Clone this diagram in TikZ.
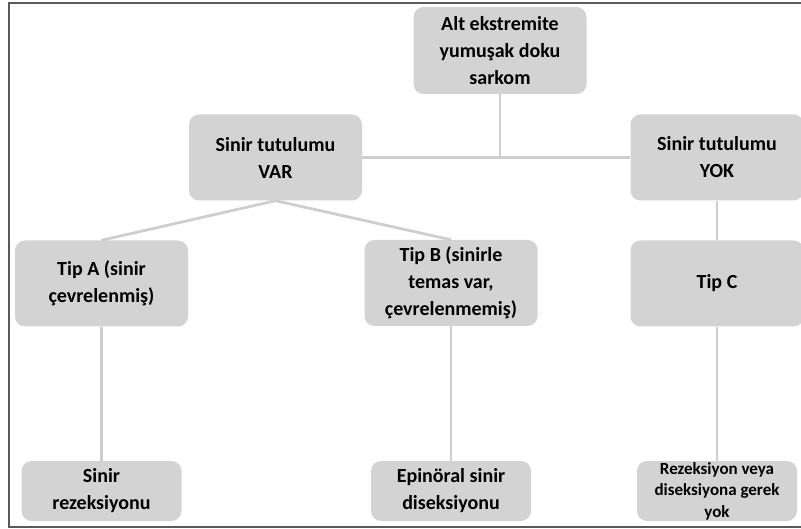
\documentclass[tikz,border=0pt]{standalone}
\usepackage{fontspec}
\setmainfont{Carlito}
\definecolor{boxgray}{RGB}{211,211,211}
\definecolor{linegray}{RGB}{206,206,206}
\definecolor{framegray}{RGB}{90,90,90}

\begin{document}
\begin{tikzpicture}[x=1pt, y=-1pt,
  box/.style={fill=boxgray, rounded corners=10pt, minimum width=173pt, minimum height=86pt, inner sep=0pt, align=center, font=\fontsize{20}{27}\selectfont\bfseries},
  leaf/.style={box, minimum width=160pt, minimum height=60pt},
  link/.style={draw=linegray, line width=2.8pt}
]
\useasboundingbox (0,0) rectangle (801,529);
\draw[framegray, line width=1.3pt] (9,3) rectangle (812,527);

% Top
\node[box, minimum height=87pt] (root) at (500,50.5) {Alt ekstremite\\yumuşak doku\\sarkom};

% Nerve involvement
\node[box] (var) at (275.5,157.5) {Sinir tutulumu\\VAR};
\node[box] (yok) at (717,157.5) {Sinir tutulumu\\YOK};

% Types
\node[box] (tipA) at (101.5,283.5) {Tip A (sinir\\çevrelenmiş)};
\node[box] (tipB) at (451,283) {Tip B (sinirle\\temas var,\\çevrelenmemiş)};
\node[box] (tipC) at (717,283.5) {Tip C};

% Treatment
\node[leaf] (resA) at (101.5,491) {Sinir\\rezeksiyonu};
\node[leaf] (resB) at (451,491) {Epinöral sinir\\diseksiyonu};
\node[leaf, font=\fontsize{17}{21.5}\selectfont\bfseries] (resC) at (717,491) {Rezeksiyon veya\\diseksiyona gerek\\yok};

% Links
\coordinate (joint) at (root.south |- var.east);
\draw[link] (root.south) -- (joint);
\draw[link] (var.east) -- (yok.west);
\draw[link] (var.south) -- (tipA.north);
\draw[link] (var.south) -- (tipB.north);
\draw[link] (yok.south) -- (tipC.north);
\draw[link] (tipA.south) -- (resA.north);
\draw[link] (tipB.south) -- (resB.north);
\draw[link] (tipC.south) -- (resC.north);
\end{tikzpicture}
\end{document}
